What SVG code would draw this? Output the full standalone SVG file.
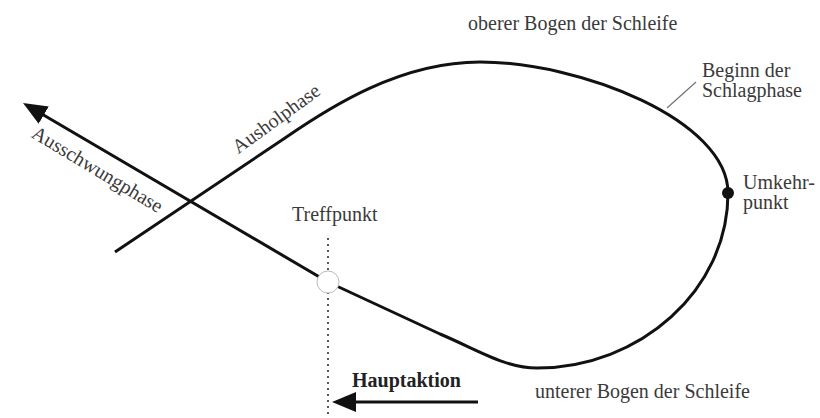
<svg xmlns="http://www.w3.org/2000/svg" width="820" height="418" viewBox="0 0 820 418">
<style>
.lbl{font-family:"Liberation Serif","Times New Roman",serif;font-size:20px;fill:#3a3a3a}
.bold{font-weight:bold;fill:#222}
.curve{fill:none;stroke:#111;stroke-width:3;stroke-linejoin:round}
</style>
<defs>
<marker id="ah" markerUnits="userSpaceOnUse" markerWidth="26" markerHeight="22" refX="18" refY="10" orient="auto" viewBox="0 0 26 22">
<path d="M0,0 L24,10 L0,20 z" fill="#111"/>
</marker>
</defs>
<rect width="820" height="418" fill="#fff"/>
<g id="connectors">
<path id="loop" class="curve" d="M115,252 L285,138 C330,107 400,62 480,62 C580,62 728,120 728,193 C728,290 640,368 537,368 C505,368 478,350 440,334 L328,282 L28.2,106" marker-end="url(#ah)"/>
<line id="treff-line" x1="328" y1="238" x2="328" y2="418" stroke="#222" stroke-width="1.5" stroke-dasharray="2,4"/>
<line id="haupt-arrow" class="curve" x1="478" y1="402" x2="338" y2="402" marker-end="url(#ah)"/>
<line id="leader" x1="667" y1="108" x2="696" y2="82" stroke="#777" stroke-width="1.3"/>
</g>
<g id="treffpunkt">
<circle cx="328" cy="282" r="11" fill="#fff" stroke="#bbb" stroke-width="1"/>
<text class="lbl" x="292" y="221">Treffpunkt</text>
</g>
<g id="umkehrpunkt">
<circle cx="728" cy="193" r="6" fill="#111"/>
<text class="lbl" x="743" y="189">Umkehr-</text>
<text class="lbl" x="743" y="209">punkt</text>
</g>
<g id="oberer-bogen">
<text class="lbl" x="468" y="30">oberer Bogen der Schleife</text>
</g>
<g id="unterer-bogen">
<text class="lbl" x="535" y="398">unterer Bogen der Schleife</text>
</g>
<g id="schlagphase">
<text class="lbl" x="702" y="77">Beginn der</text>
<text class="lbl" x="702" y="97">Schlagphase</text>
</g>
<g id="ausholphase">
<text class="lbl" text-anchor="middle" transform="translate(280,124) rotate(-36)">Ausholphase</text>
</g>
<g id="ausschwungphase">
<text class="lbl" text-anchor="middle" transform="translate(94,175) rotate(31)">Ausschwungphase</text>
</g>
<g id="hauptaktion">
<text class="lbl bold" x="352" y="387">Hauptaktion</text>
</g>
</svg>
